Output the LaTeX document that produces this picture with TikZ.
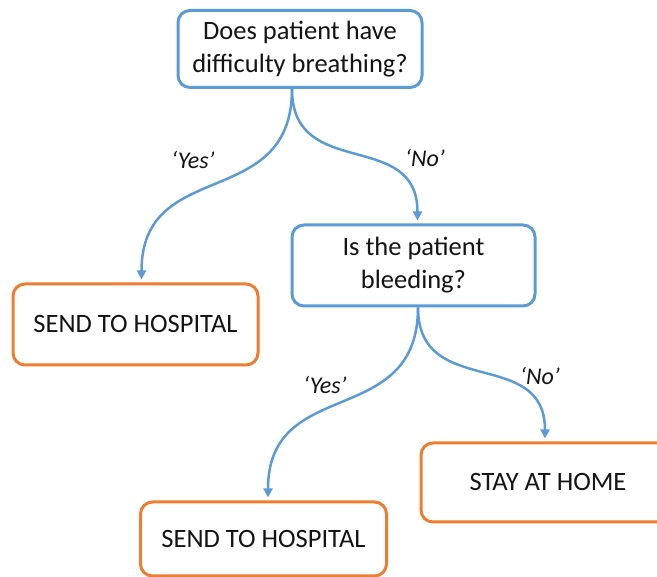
\documentclass[tikz,border=0pt]{standalone}
\usepackage{fontspec}
\setmainfont{Carlito}
\usetikzlibrary{arrows.meta}
\definecolor{qblue}{RGB}{91,155,213}
\definecolor{aorange}{RGB}{237,125,49}
\definecolor{txt}{RGB}{20,20,20}
\begin{document}
\begin{tikzpicture}[x=1pt,y=1pt,
  basebox/.style={line width=3pt, rounded corners=12pt, fill=white, text=txt,
    align=center, inner sep=0pt, font=\fontsize{26.5}{33}\selectfont},
  qbox/.style={basebox, draw=qblue},
  abox/.style={basebox, draw=aorange},
  conn/.style={draw=qblue, line width=2.5pt, -{Triangle[length=9pt,width=9pt]}},
  lbl/.style={font=\fontsize{24}{28}\selectfont\itshape, text=txt}]
\useasboundingbox (0,0) rectangle (657,577);
\clip (0,0) rectangle (657,577);
\fill[white] (0,0) rectangle (657,577);

\node[qbox, minimum width=244pt, minimum height=77pt] (q1) at (300,528)
  {Does patient have\\difficulty breathing?};
\node[abox, minimum width=245pt, minimum height=81pt] (send1) at (135.5,252.5)
  {SEND TO HOSPITAL};
\node[qbox, minimum width=243pt, minimum height=81pt] (q2) at (413.5,311.5)
  {Is the patient\\bleeding?};
\node[abox, minimum width=246pt, minimum height=74pt] (send2) at (263.5,38)
  {SEND TO HOSPITAL};
\node[abox, minimum width=254pt, minimum height=79pt] (stay) at (548,94.5)
  {STAY AT HOME};

\draw[conn] ([xshift=-8pt]q1.south) to[out=-90,in=90,looseness=1.3] ([xshift=6pt,yshift=3pt]send1.north);
\draw[conn] ([xshift=-8pt]q1.south) to[out=-90,in=90,looseness=1.3] ([xshift=4pt,yshift=3pt]q2.north);
\draw[conn] ([xshift=4.5pt]q2.south) to[out=-90,in=90,looseness=1.3] ([xshift=4.5pt,yshift=3pt]send2.north);
\draw[conn] ([xshift=4.5pt]q2.south) to[out=-90,in=90,looseness=1.3] ([xshift=-3pt,yshift=3pt]stay.north);

\node[lbl] (y1) at (193,417) {‘Yes’};
\node[lbl] (n1) at (425,419) {‘No’};
\node[lbl] (y2) at (325,192) {‘Yes’};
\node[lbl] (n2) at (540,201) {‘No’};
\end{tikzpicture}
\end{document}
